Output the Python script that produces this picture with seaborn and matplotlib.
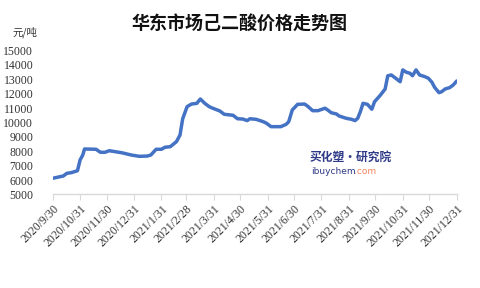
import matplotlib
matplotlib.use("Agg")
import matplotlib.pyplot as plt
import seaborn as sns
import pandas as pd

dates = ["2020-09-30", "2020-10-12", "2020-10-16", "2020-10-21", "2020-10-28", "2020-10-31",
         "2020-11-03", "2020-11-05", "2020-11-18", "2020-11-23", "2020-11-28", "2020-12-03",
         "2020-12-07", "2020-12-17", "2020-12-28", "2021-01-06", "2021-01-15", "2021-01-19",
         "2021-01-25", "2021-01-31", "2021-02-04", "2021-02-10", "2021-02-17", "2021-02-21",
         "2021-02-24", "2021-03-01", "2021-03-06", "2021-03-12", "2021-03-16", "2021-03-21",
         "2021-03-26", "2021-03-30", "2021-04-07", "2021-04-12", "2021-04-22", "2021-04-27",
         "2021-05-03", "2021-05-08", "2021-05-11", "2021-05-18", "2021-05-26", "2021-05-30",
         "2021-06-04", "2021-06-15", "2021-06-21", "2021-06-24", "2021-06-28", "2021-07-04",
         "2021-07-12", "2021-07-16", "2021-07-21", "2021-07-27", "2021-08-04", "2021-08-07",
         "2021-08-11", "2021-08-17", "2021-08-20", "2021-08-28", "2021-09-03", "2021-09-07",
         "2021-09-10", "2021-09-13", "2021-09-16", "2021-09-21", "2021-09-26", "2021-09-29",
         "2021-10-05", "2021-10-11", "2021-10-14", "2021-10-18", "2021-10-23", "2021-10-28",
         "2021-10-31", "2021-11-04", "2021-11-08", "2021-11-11", "2021-11-15", "2021-11-19",
         "2021-11-25", "2021-11-29", "2021-12-03", "2021-12-06", "2021-12-11", "2021-12-14",
         "2021-12-18", "2021-12-23", "2021-12-27", "2021-12-31"]
prices = [6125, 6285, 6470, 6515, 6650, 7400,
          7740, 8160, 8140, 7930, 7930, 8040,
          8000, 7900, 7740, 7650, 7670, 7740,
          8140, 8140, 8280, 8320, 8670, 9130,
          10250, 11100, 11280, 11330, 11630, 11330,
          11100, 10990, 10800, 10570, 10500, 10260,
          10240, 10130, 10260, 10220, 10060, 9940,
          9710, 9710, 9870, 10060, 10870, 11260,
          11280, 11100, 10820, 10820, 10990, 10870,
          10680, 10590, 10450, 10290, 10220, 10130,
          10290, 10750, 11330, 11260, 10920, 11440,
          11850, 12320, 13240, 13300, 13070, 12830,
          13650, 13490, 13420, 13250, 13650, 13300,
          13180, 13070, 12790, 12440, 12070, 12140,
          12330, 12420, 12600, 12880]

tick_dates = ["2020-09-30", "2020-10-31", "2020-11-30", "2020-12-31", "2021-01-31", "2021-02-28",
              "2021-03-31", "2021-04-30", "2021-05-31", "2021-06-30", "2021-07-31", "2021-08-31",
              "2021-09-30", "2021-10-31", "2021-11-30", "2021-12-31"]
tick_labels = ["2020/9/30", "2020/10/31", "2020/11/30", "2020/12/31", "2021/1/31", "2021/2/28",
               "2021/3/31", "2021/4/30", "2021/5/31", "2021/6/30", "2021/7/31", "2021/8/31",
               "2021/9/30", "2021/10/31", "2021/11/30", "2021/12/31"]
y_ticks = [5000, 6000, 7000, 8000, 9000, 10000, 11000, 12000, 13000, 14000, 15000]

title = "华东市场己二酸价格走势图"
unit = "元/吨"

sns.set_theme(style="white")
plt.rcParams['font.family'] = ['Liberation Serif', 'Noto Sans CJK SC', 'DejaVu Sans']

df = pd.DataFrame({"date": pd.to_datetime(dates), "price": prices})

fig = plt.figure(figsize=(4.8, 2.88), dpi=100)
ax = fig.add_axes([0.1098, 0.3247, 0.8417, 0.5])
sns.lineplot(data=df, x="date", y="price", ax=ax, color="#4472C4", linewidth=2.5)

ax.set_xlim(pd.Timestamp("2020-09-30"), pd.Timestamp("2021-12-31"))
ax.set_ylim(5000, 15000)
ax.set_xticks(pd.to_datetime(tick_dates))
ax.set_xticklabels(tick_labels, rotation=45, ha="right", rotation_mode="anchor",
                   fontsize=8.5, color="#333333")
ax.set_yticks(y_ticks)
ax.set_yticklabels([str(v) for v in y_ticks], fontsize=8.5, color="#333333")
ax.set_xlabel("")
ax.set_ylabel("")
for s in ["left", "top", "right"]:
    ax.spines[s].set_visible(False)
ax.spines["bottom"].set_color("#d9d9d9")
ax.spines["bottom"].set_linewidth(1)
ax.tick_params(axis="x", bottom=True, length=4, width=0.8, color="#d9d9d9", pad=2)
ax.tick_params(axis="y", left=False, pad=8)
ax.grid(False)

fig.text(0.5, 0.918, title, ha="center", va="center", fontsize=13, fontweight="bold",
         family=["Noto Sans CJK SC", "DejaVu Sans"], color="#111111")
fig.text(0.027, 0.888, unit, ha="left", va="center", fontsize=7.5,
         family=["Noto Sans CJK SC", "DejaVu Sans"], color="#333333")

fig.text(0.731, 0.453, "买化塑·研究院", ha="center", va="center", fontsize=8.5, fontweight="bold",
         style="italic", family=["Noto Sans CJK SC", "DejaVu Sans"], color="#2e3a87")
fig.text(0.742, 0.404, "ibuychem", ha="right", va="center", fontsize=6.5,
         family=["DejaVu Sans"], color="#2e3a87")
fig.text(0.738, 0.404, ".com", ha="left", va="center", fontsize=6.5,
         family=["DejaVu Sans"], color="#f4845f")

fig.savefig("out.png", dpi=100)
